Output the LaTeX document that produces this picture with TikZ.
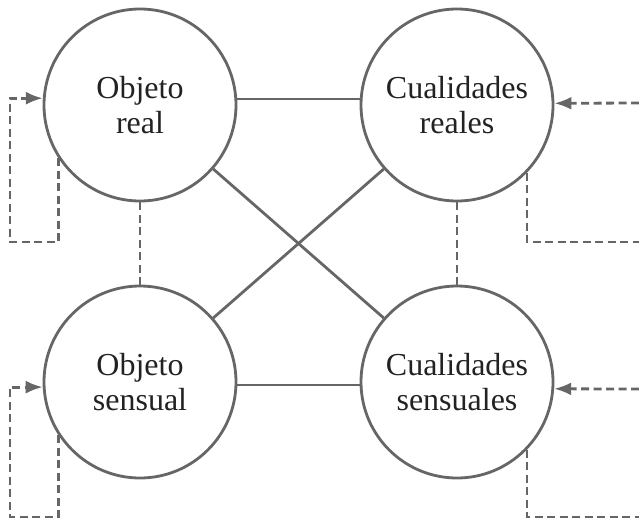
\documentclass[tikz,border=0pt]{standalone}
\usepackage{fontspec}
\setmainfont{Liberation Serif}
\usetikzlibrary{arrows.meta}
\definecolor{linegray}{HTML}{666666}
\definecolor{textdark}{HTML}{222222}
\tikzset{
  circ/.style={circle, draw=linegray, line width=2.8pt, minimum size=192pt, inner sep=0pt,
    align=center, text=textdark, font=\fontsize{32}{35}\selectfont},
  link/.style={draw=linegray, line width=2.8pt},
  dlink/.style={draw=linegray, line width=2.8pt, dash pattern=on 8pt off 4.5pt},
  tip/.style={-{Latex[length=17pt,width=13pt]}}
}
\begin{document}
\begin{tikzpicture}[x=1pt,y=-1pt]
\useasboundingbox (0,0) rectangle (639,520);
\node[circ] (TL) at (140,105) {Objeto\\real};
\node[circ] (TR) at (457,105) {Cualidades\\reales};
\node[circ] (BL) at (140,382) {Objeto\\sensual};
\node[circ] (BR) at (457,382) {Cualidades\\sensuales};
% solid connectors
\coordinate (ht) at (300,99);
\coordinate (hb) at (300,385);
\draw[link] (TL.east |- ht) -- (TR.west |- ht);
\draw[link] (BL.east |- hb) -- (BR.west |- hb);
\draw[link] (TL) -- (BR);
\draw[link] (TR) -- (BL);
% vertical dashed
\draw[dlink] (TL.south) -- (BL.north);
\draw[dlink] (TR.south) -- (BR.north);
% left loops
\coordinate (la) at (10,242);
\coordinate (lb) at (10,517);
\draw[dlink,tip] (TL.213.5) |- (la) |- (TL.176.4);
\draw[dlink,tip] (BL.213.5) |- (lb) |- (BL.183);
% right loops
\coordinate (ra1) at (639,103);
\coordinate (ra2) at (639,242);
\coordinate (rb1) at (639,389);
\coordinate (rb2) at (639,517);
\draw[dlink,tip] (ra1) -- (TR.1.2);
\draw[dlink] (TR.316.8) |- (ra2);
\draw[dlink,tip] (rb1) -- (BR.-4.2);
\draw[dlink] (BR.316.8) |- (rb2);
\end{tikzpicture}
\end{document}
